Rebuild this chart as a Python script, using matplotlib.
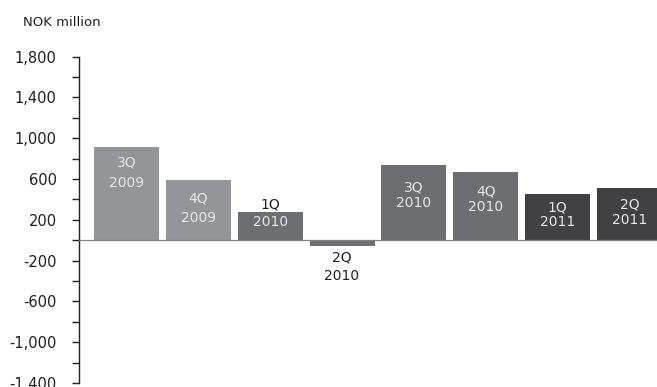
import matplotlib
matplotlib.use("Agg")
import matplotlib.pyplot as plt
from matplotlib.ticker import FuncFormatter, FixedLocator

# Quarterly result, NOK million
quarters = ["3Q", "4Q", "1Q", "2Q", "3Q", "4Q", "1Q", "2Q"]
years = ["2009", "2009", "2010", "2010", "2010", "2010", "2011", "2011"]
values = [910, 593, 280, -60, 740, 671, 456, 515]

bar_colors = ["#939598", "#939598", "#6d6e71", "#6d6e71",
              "#6d6e71", "#6d6e71", "#414042", "#414042"]

# how far (in pixels) each label line sits past the end of its bar
quarter_drop = [15, 19, -7, 11, 23, 20, 14, 17]
year_drop = [36, 38, 10, 30, 38, 35, 28, 32]

dark = "#231f20"
light = "#e6e7e8"

fig = plt.figure(figsize=(6.57, 3.87), dpi=100)
ax = fig.add_axes([0.1202, 0.0103, 0.8798, 0.8432])

x = list(range(len(values)))
ax.bar(x, values, width=0.905, color=bar_colors, zorder=2)
ax.axhline(0, color="#808285", lw=0.9, zorder=3)

ax.set_xlim(-0.661, 7.383)
ax.set_ylim(-1400, 1800)

# data units per pixel on the y axis
ax_h_px = ax.get_position().height * fig.get_figheight() * fig.dpi
px = 3200 / ax_h_px

for i, v in enumerate(values):
    for text, drop in ((quarters[i], quarter_drop[i]), (years[i], year_drop[i])):
        y = v - drop * px
        inside = (0 < y < v) if v >= 0 else (v < y < 0)
        ax.text(i, y, text, ha="center", va="center", fontsize=10,
                color=light if inside else dark, zorder=4)

for side in ("top", "right", "bottom"):
    ax.spines[side].set_visible(False)
ax.spines["left"].set_color(dark)
ax.spines["left"].set_linewidth(1.0)

ax.set_xticks([])
ax.yaxis.set_major_locator(FixedLocator(range(-1400, 1801, 400)))
ax.yaxis.set_minor_locator(FixedLocator(range(-1200, 1601, 400)))
ax.yaxis.set_major_formatter(FuncFormatter(lambda v, p: f"{v:,.0f}"))
ax.tick_params(axis="y", which="both", direction="out", length=5,
               width=1.0, color=dark)
ax.tick_params(axis="y", which="major", labelsize=10.5, labelcolor=dark, pad=11)

fig.text(23 / 657, 1 - 22 / 387, "NOK million", fontsize=9.5, color=dark,
         ha="left", va="center")

fig.savefig("out.png", dpi=100)
